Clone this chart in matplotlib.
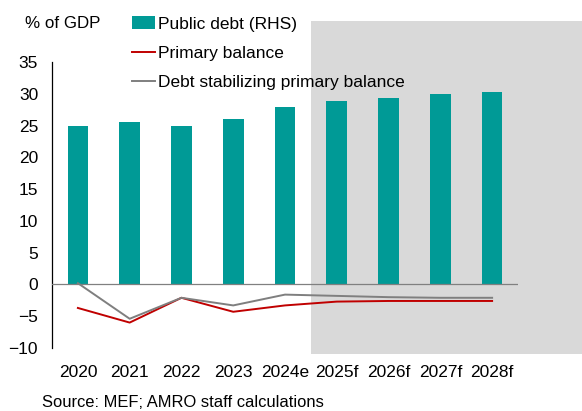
import matplotlib as mpl

mpl.use('Agg')

import matplotlib.pyplot as plt
import numpy as np
from matplotlib.patches import Rectangle
from matplotlib.transforms import blended_transform_factory

years = ["2020", "2021", "2022", "2023", "2024e", "2025f", "2026f", "2027f",
         "2028f"]
public_debt = [25.0, 25.6, 25.0, 26.1, 27.9, 28.8, 29.4, 29.9, 30.3]
primary_balance = [-3.7, -6.0, -2.1, -4.3, -3.3, -2.7, -2.6, -2.6, -2.6]
debt_stabilizing = [0.2, -5.4, -2.1, -3.3, -1.6, -1.8, -2.0, -2.1, -2.1]
y_ticks = [-10, -5, 0, 5, 10, 15, 20, 25, 30, 35]
forecast_start = 4.5


def main():
    plt.rcParams['font.family'] = ['Liberation Sans', 'DejaVu Sans']
    plt.rcParams['font.size'] = 12.5

    fig = plt.figure(figsize=(5.82, 4.11), dpi=100)
    ax = fig.add_axes([52 / 582, 1 - 348 / 411, 466 / 582, 286 / 411])
    ax.patch.set_alpha(0)

    x = np.arange(len(years))

    # forecast period shading, runs past the plot area
    trans = blended_transform_factory(ax.transData, fig.transFigure)
    ax.add_patch(Rectangle((forecast_start, 1 - 354 / 411), 10, 333 / 411,
                           transform=trans, facecolor='#d9d9d9',
                           edgecolor='none', zorder=0, clip_on=False))

    ax.bar(x, public_debt, width=0.4, color='#009a96',
           label="Public debt (RHS)", zorder=2)
    ax.axhline(0, color='#808080', lw=0.9, zorder=3)
    ax.plot(x, primary_balance, color='#c00000', lw=1.4,
            label="Primary balance", zorder=4)
    ax.plot(x, debt_stabilizing, color='#7f7f7f', lw=1.4,
            label="Debt stabilizing primary balance", zorder=4)

    ax.set_xlim(-0.5, len(years) - 0.5)
    ax.set_ylim(-10, 35)
    ax.set_yticks(y_ticks)
    ax.set_xticks(x)
    ax.set_xticklabels(years)
    ax.tick_params(axis='both', length=0, labelsize=12.5)
    ax.tick_params(axis='y', pad=10)
    ax.tick_params(axis='x', pad=12)
    for side in ['top', 'right', 'bottom']:
        ax.spines[side].set_visible(False)
    ax.spines['left'].set_color('#000000')
    ax.spines['left'].set_linewidth(0.9)

    handles, labels = ax.get_legend_handles_labels()
    order = [2, 0, 1]
    fig.legend([handles[i] for i in order], [labels[i] for i in order],
               loc='upper left', bbox_to_anchor=(129 / 582, 1 - 13 / 411),
               frameon=False, fontsize=12.5, handlelength=1.3,
               handletextpad=0.17, labelspacing=0.8, borderaxespad=0,
               borderpad=0.2)

    fig.text(25 / 582, 1 - 23 / 411, "% of GDP", fontsize=12.2,
             va='center', ha='left')
    fig.text(42 / 582, 1 - 402 / 411, "Source: MEF; AMRO staff calculations",
             fontsize=11.9, va='center', ha='left')

    fig.savefig('out.png', dpi=100)


if __name__ == '__main__':
    main()
